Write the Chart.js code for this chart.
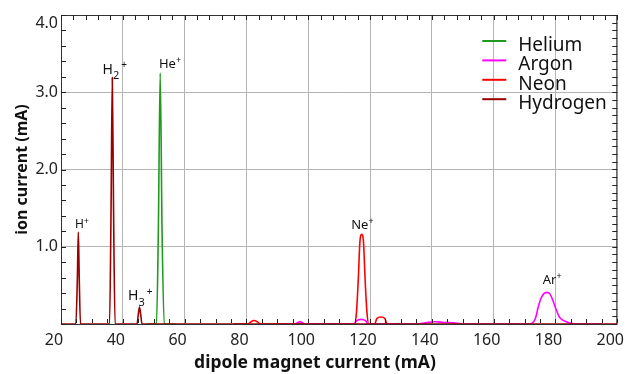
<!DOCTYPE html>
<html>
<head>
<meta charset="utf-8">
<script src="https://cdn.jsdelivr.net/npm/chart.js@4.4.0/dist/chart.umd.min.js"></script>
<style>
  html, body { margin: 0; padding: 0; background: #fff; }
  #chart { display: block; }
</style>
</head>
<body>
<canvas id="chart" width="638" height="374"></canvas>
<script>
// series, in legend order
const SERIES_NAMES = ["Helium", "Argon", "Neon", "Hydrogen"];
const SERIES_COLORS = ["#1f9a1f", "#ff00ff", "#ff0000", "#9a0000"];

// dipole magnet current (mA) / ion current (mA)
const HELIUM_X = [48, 50.9, 51.5, 52.1, 52.7, 53.4, 57];
const HELIUM_Y = [0, 0, 1.2, 3.25, 1.2, 0, 0];

const ARGON_X = [92, 95.5, 97.3, 99.2, 102, 114.8, 115.6, 117.1, 118.6, 119.4, 135, 138, 141, 144, 147, 150,
                 171.5, 172.5, 173.5, 174.3, 175.2, 176.2, 177.2, 178.2, 179.2, 180.1, 181, 182, 183.5, 185, 187, 195];
const ARGON_Y = [0, 0, 0.03, 0, 0, 0, 0.04, 0.06, 0.04, 0, 0, 0.015, 0.03, 0.02, 0.015, 0,
                 0, 0.01, 0.07, 0.2, 0.32, 0.39, 0.41, 0.39, 0.3, 0.2, 0.11, 0.06, 0.03, 0.01, 0, 0];

const NEON_X = [76, 80.5, 81.5, 82.5, 83.5, 84.5, 115.0, 115.6, 116.2, 116.7, 117.3, 117.9, 118.4, 119.0, 119.6,
                121.5, 122.2, 123.5, 124.8, 125.5, 130];
const NEON_Y = [0, 0, 0.03, 0.045, 0.03, 0, 0, 0.15, 0.58, 1.05, 1.16, 1.05, 0.58, 0.15, 0,
                0, 0.07, 0.09, 0.07, 0, 0];

const HYDROGEN_X = [20, 24.8, 25.3, 25.6, 25.9, 26.3, 35.7, 36.2, 36.6, 37.0, 37.5, 44.6, 45.0, 45.4, 45.8, 46.2, 200];
const HYDROGEN_Y = [0, 0, 0.6, 1.19, 0.6, 0, 0, 1.5, 3.19, 1.5, 0, 0, 0.12, 0.22, 0.12, 0, 0];

const SERIES_X = [HELIUM_X, ARGON_X, NEON_X, HYDROGEN_X];
const SERIES_Y = [HELIUM_Y, ARGON_Y, NEON_Y, HYDROGEN_Y];

// peak annotations: text start and baseline in data units
const PEAK_NAMES = ["H", "H", "H", "He", "Ne", "Ar"];
const PEAK_SUBS = ["", "2", "3", "", "", ""];
const PEAK_LABEL_X = [24.5, 33.45, 41.7, 51.7, 113.9, 175.9];
const PEAK_LABEL_Y = [1.24, 3.24, 0.31, 3.31, 1.23, 0.52];
const PEAK_FONT_SIZES = [12, 14, 14, 13, 13, 13];

const FONT = '"Noto Sans", "Open Sans", sans-serif';
Chart.defaults.font.family = FONT;

const datasets = SERIES_NAMES.map((name, i) => ({
    label: name,
    data: SERIES_X[i].map((x, j) => ({ x: x, y: SERIES_Y[i][j] })),
    borderColor: SERIES_COLORS[i],
    backgroundColor: SERIES_COLORS[i],
    borderWidth: 1.6,
    pointRadius: 0,
    fill: false,
    cubicInterpolationMode: "monotone",
    order: name === "Hydrogen" ? -1 : i
}));

// frame with inward minor ticks on all four sides
const frameTicks = {
    id: "frameTicks",
    beforeDatasetsDraw(chart) {
        const { ctx, chartArea: a } = chart;
        ctx.save();
        ctx.strokeStyle = "#333";
        ctx.lineWidth = 1;
        ctx.strokeRect(a.left + 0.5, a.top + 0.5, a.right - a.left - 1, a.bottom - a.top);
        ctx.restore();
    },
    afterDatasetsDraw(chart) {
        const { ctx, chartArea: a, scales } = chart;
        const x = scales.x, y = scales.y;
        ctx.save();
        ctx.strokeStyle = "#222";
        ctx.lineWidth = 1;
        ctx.beginPath();
        for (let v = x.min; v <= x.max + 1e-9; v += 5) {
            const px = Math.round(x.getPixelForValue(v)) + 0.5;
            ctx.moveTo(px, a.bottom - 1);
            ctx.lineTo(px, a.bottom - 5);
        }
        for (let v = x.min; v <= x.max + 1e-9; v += 4) {
            const px = Math.round(x.getPixelForValue(v)) + 0.5;
            ctx.moveTo(px, a.top);
            ctx.lineTo(px, a.top + 5);
        }
        for (let v = y.min; v <= y.max + 1e-9; v += 0.2) {
            const py = Math.round(y.getPixelForValue(v)) + 0.5;
            ctx.moveTo(a.left, py);
            ctx.lineTo(a.left + 5, py);
        }
        for (let v = y.min; v <= y.max + 1e-9; v += 0.1) {
            const py = Math.round(y.getPixelForValue(v)) + 0.5;
            ctx.moveTo(a.right, py);
            ctx.lineTo(a.right - 5, py);
        }
        ctx.stroke();
        ctx.restore();
    }
};

// peak names with sub/superscripts
const peakLabels = {
    id: "peakLabels",
    afterDatasetsDraw(chart) {
        const { ctx, scales } = chart;
        ctx.save();
        ctx.fillStyle = "#111";
        ctx.textBaseline = "alphabetic";
        ctx.textAlign = "left";
        PEAK_NAMES.forEach((name, i) => {
            const size = PEAK_FONT_SIZES[i];
            let px = scales.x.getPixelForValue(PEAK_LABEL_X[i]);
            const py = scales.y.getPixelForValue(PEAK_LABEL_Y[i]);
            ctx.font = size + "px " + FONT;
            ctx.fillText(name, px, py);
            px += ctx.measureText(name).width;
            if (PEAK_SUBS[i]) {
                ctx.font = Math.round(size * 0.8) + "px " + FONT;
                ctx.fillText(PEAK_SUBS[i], px, py + size * 0.4);
                px += ctx.measureText(PEAK_SUBS[i]).width + 2;
            }
            ctx.font = Math.round(size * 0.72) + "px " + FONT;
            ctx.fillText("+", px, py - size * 0.38);
        });
        ctx.restore();
    }
};

// legend inside the plot, top right
const insideLegend = {
    id: "insideLegend",
    afterDraw(chart) {
        const { ctx, chartArea: a } = chart;
        const x0 = a.right - 135;
        ctx.save();
        ctx.font = "19px " + FONT;
        ctx.textBaseline = "alphabetic";
        ctx.textAlign = "left";
        chart.data.datasets.forEach((ds, i) => {
            const ly = a.top + 26 + i * 19.4;
            ctx.strokeStyle = ds.borderColor;
            ctx.lineWidth = 2;
            ctx.beginPath();
            ctx.moveTo(x0, ly);
            ctx.lineTo(x0 + 24, ly);
            ctx.stroke();
            ctx.fillStyle = "#111";
            ctx.fillText(ds.label, x0 + 36, ly + 10);
        });
        ctx.restore();
    }
};

// the original puts "4.0" just below the frame and centres the x title on the page
const nudgeLabels = {
    id: "nudgeLabels",
    beforeDraw(chart) {
        const items = chart.scales.y.getLabelItems();
        const top = items[items.length - 1];
        if (top && top.label === "4.0") {
            top.options.translation[1] += 8;
        }
        const xs = chart.scales.x;
        if (!xs._titleShifted) {
            const draw = xs.drawTitle;
            xs.drawTitle = function () {
                const c = this.ctx;
                c.save();
                c.translate(chart.width / 2 - (this.left + this.right) / 2 - 4, 0);
                draw.call(this);
                c.restore();
            };
            xs._titleShifted = true;
        }
    }
};

new Chart(document.getElementById("chart"), {
    type: "line",
    data: { datasets: datasets },
    options: {
        responsive: false,
        animation: false,
        devicePixelRatio: 1,
        layout: { padding: { top: 15, right: 18, left: 0, bottom: 0 } },
        plugins: {
            legend: { display: false },
            tooltip: { enabled: false }
        },
        scales: {
            x: {
                type: "linear",
                min: 20,
                max: 200,
                afterFit(scale) { scale.height = 50; },
                border: { display: false },
                grid: { color: "#b4b4b4", drawTicks: false },
                ticks: {
                    stepSize: 20,
                    padding: 7,
                    labelOffset: -7,
                    maxRotation: 0,
                    color: "#222",
                    font: { size: 16 }
                },
                title: {
                    display: true,
                    text: "dipole magnet current (mA)",
                    color: "#111",
                    font: { size: 17.5, weight: "bold" },
                    padding: { top: 0, bottom: 0 }
                }
            },
            y: {
                min: 0,
                max: 4,
                afterFit(scale) { scale.width = 61; },
                border: { display: false },
                grid: { color: "#b4b4b4", drawTicks: false },
                ticks: {
                    stepSize: 1,
                    padding: 3,
                    color: "#222",
                    font: { size: 16 },
                    callback: (v) => (v === 0 ? "" : v.toFixed(1))
                },
                title: {
                    display: true,
                    text: "ion current (mA)",
                    color: "#111",
                    font: { size: 16, weight: "bold" },
                    padding: { top: 13, bottom: 0 }
                }
            }
        }
    },
    plugins: [nudgeLabels, frameTicks, peakLabels, insideLegend]
});
</script>
</body>
</html>
